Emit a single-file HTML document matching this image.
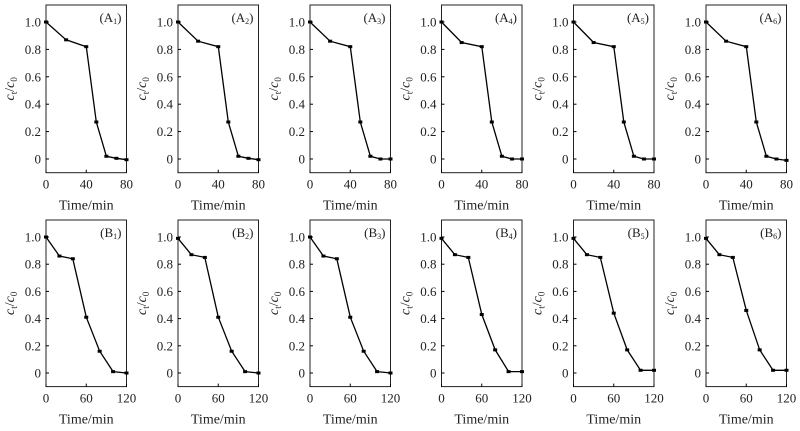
<!DOCTYPE html>
<html><head><meta charset="utf-8"><style>
html,body{margin:0;padding:0;background:#fff;font-family:'Liberation Serif',Times,serif;}
</style></head><body>
<svg id="c" width="800" height="431" viewBox="0 0 800 431" style="display:block;font-family:'Liberation Serif',Times,serif;"></svg>
<script>
const panelLeft = [46, 178, 310, 441.5, 573.5, 706];
const timesA = [0, 20, 40, 50, 60, 70, 80];
const timesB = [0, 20, 40, 60, 80, 100, 120];
const seriesA = [
 [1.0, 0.87, 0.82, 0.27, 0.02, 0.005, -0.005],
 [1.0, 0.86, 0.82, 0.27, 0.02, 0.005, -0.005],
 [1.0, 0.86, 0.82, 0.27, 0.02, 0.0, 0.0],
 [1.0, 0.85, 0.82, 0.27, 0.02, 0.0, 0.0],
 [1.0, 0.85, 0.82, 0.27, 0.02, 0.0, 0.0],
 [1.0, 0.86, 0.82, 0.27, 0.02, 0.0, -0.01]
];
const seriesB = [
 [1.0, 0.86, 0.84, 0.41, 0.16, 0.01, 0.0],
 [0.99, 0.87, 0.85, 0.41, 0.16, 0.01, 0.0],
 [1.0, 0.86, 0.84, 0.41, 0.16, 0.01, 0.0],
 [0.99, 0.87, 0.85, 0.43, 0.17, 0.01, 0.01],
 [0.99, 0.87, 0.85, 0.44, 0.17, 0.02, 0.02],
 [0.99, 0.87, 0.85, 0.46, 0.17, 0.02, 0.02]
];
const subs = ["1","2","3","4","5","6"];
const yTicks = [0, 0.2, 0.4, 0.6, 0.8, 1.0];
const yTickLabels = ["0","0.2","0.4","0.6","0.8","1.0"];
const xTicksA = [0, 40, 80];
const xTicksB = [0, 60, 120];

const svg = document.getElementById('c');
const NS = 'http://www.w3.org/2000/svg';
function el(tag, attrs, parent){const e=document.createElementNS(NS,tag);for(const k in attrs)e.setAttribute(k,attrs[k]);if(tag==='text')e.setAttribute('style',"font-family:'Liberation Serif',Times,serif;font-weight:normal");(parent||svg).appendChild(e);return e;}

function panel(i, times, vals, xTicks, xMax, top, y0, y1, letter){
  const L = panelLeft[i], W = 80.5, bottom = y0 + (y0 - y1) * 0.1;
  const g = el('g', {});
  
  
  const xs = v => L + v / xMax * W;
  const ys = v => y0 - v * (y0 - y1);
  const box = el('rect', {x:L, y:top, width:W, height:bottom-top, fill:'none', stroke:'#222', 'stroke-width':1}, g);
  
  
  yTicks.forEach((t, k) => {
    const y = ys(t);
    el('line', {x1:L, x2:L+3, y1:y, y2:y, stroke:'#000'}, g);
    const tx = el('text', {x:L-5, y:y+4.5, 'text-anchor':'end', 'font-size':13, fill:'#222'}, g);
    tx.textContent = yTickLabels[k];
    
    
  });
  xTicks.forEach(t => {
    const x = xs(t);
    el('line', {x1:x, x2:x, y1:bottom, y2:bottom-3, stroke:'#000'}, g);
    const tx = el('text', {x:x, y:bottom+16, 'text-anchor':'middle', 'font-size':13, fill:'#222'}, g);
    tx.textContent = String(t);
    
    
  });
  const xt = el('text', {x:L+W/2, y:bottom+37, 'text-anchor':'middle', 'font-size':14, fill:'#222'}, g);
  xt.textContent = 'Time/min';
  
  
  const cy = (top + bottom) / 2;
  const yt = el('text', {x:0, y:0, 'text-anchor':'middle', 'font-size':14, fill:'#222', transform:`translate(${L-32},${cy}) rotate(-90)`}, g);
  yt.innerHTML = '<tspan font-style="italic">c</tspan><tspan font-size="9" dy="3">t</tspan><tspan dy="-3">/</tspan><tspan font-style="italic">c</tspan><tspan font-size="9" dy="3">0</tspan>';
  
  
  const lab = el('text', {x:L+W-5, y:top+17, 'text-anchor':'end', 'font-size':13, fill:'#222'}, g);
  lab.innerHTML = '(' + letter + '<tspan font-size="8" dy="2">' + subs[i] + '</tspan><tspan dy="-2">)</tspan>';
  
  
  const pts = times.map((t, k) => xs(t).toFixed(1) + ',' + ys(vals[k]).toFixed(1)).join(' ');
  const line = el('polyline', {points:pts, fill:'none', stroke:'#000', 'stroke-width':1.3}, g);
  
  
  times.forEach((t, k) => {
    const m = el('rect', {x:xs(t)-2, y:ys(vals[k])-1.5, width:4, height:3, fill:'#000'}, g);
    
    
  });
}
for (let i = 0; i < 6; i++) {
  panel(i, timesA, seriesA[i], xTicksA, 80, 5, 159, 22, 'A');
  panel(i, timesB, seriesB[i], xTicksB, 120, 220, 373, 237, 'B');
}
</script>
</body></html>
